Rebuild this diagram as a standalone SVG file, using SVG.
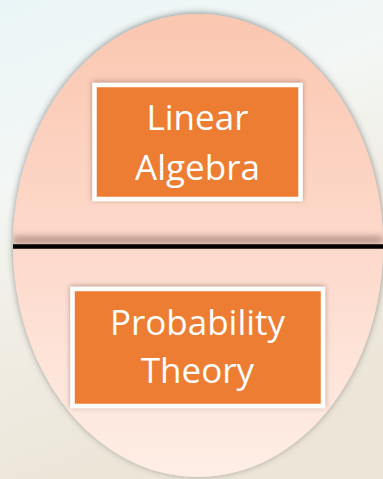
<svg xmlns="http://www.w3.org/2000/svg" width="383" height="479" viewBox="0 0 383 479">
<defs>
<linearGradient id="bg" x1="0" y1="0" x2="0.3" y2="1">
<stop offset="0" stop-color="#EAF5F7"/>
<stop offset="0.35" stop-color="#F3F7F5"/>
<stop offset="0.6" stop-color="#F1EEE6"/>
<stop offset="1" stop-color="#ECE5D8"/>
</linearGradient>
<linearGradient id="ell" x1="0" y1="0" x2="0" y2="1">
<stop offset="0" stop-color="#FAC7B0"/>
<stop offset="0.5" stop-color="#FDD9CB"/>
<stop offset="1" stop-color="#FEEEE6"/>
</linearGradient>
<filter id="sh" x="-10%" y="-10%" width="120%" height="120%">
<feDropShadow dx="0" dy="-1" stdDeviation="3" flood-color="#3a3a3a" flood-opacity="0.55"/>
</filter>
<filter id="bsh" x="-10%" y="-15%" width="120%" height="130%">
<feDropShadow dx="0" dy="-1" stdDeviation="2.5" flood-color="#5a3a30" flood-opacity="0.45"/>
</filter>
<filter id="blur" x="-5%" y="-100%" width="110%" height="300%">
<feGaussianBlur stdDeviation="3"/>
</filter>
<clipPath id="ec"><ellipse cx="198" cy="245.5" rx="185" ry="231.5"/></clipPath>
</defs>
<style>
.box{fill:#ED7D31;stroke:#FFFFFF;stroke-width:4.5}
.t{font-family:"Open Sans","Noto Sans",sans-serif;font-size:35px;fill:#FFFFFF;text-anchor:middle}
</style>
<rect x="0" y="0" width="383" height="479" fill="url(#bg)"/>
<g id="oval">
<ellipse cx="198" cy="245.5" rx="185" ry="231.5" fill="url(#ell)" filter="url(#sh)"/>
</g>
<g id="connectors">
<rect x="13" y="236" width="370" height="8" fill="#6b4a3e" opacity="0.45" filter="url(#blur)" clip-path="url(#ec)"/>
<line x1="13" y1="246.5" x2="383" y2="246.5" stroke="#000000" stroke-width="4.5"/>
</g>
<g id="linear-algebra">
<rect class="box" x="94.5" y="85" width="206" height="114" filter="url(#bsh)"/>
<text class="t" x="197.5" y="130">Linear</text>
<text class="t" x="197.5" y="180">Algebra</text>
</g>
<g id="probability-theory">
<rect class="box" x="72.5" y="289" width="250.5" height="117" filter="url(#bsh)"/>
<text class="t" x="197.5" y="335">Probability</text>
<text class="t" x="197.5" y="383">Theory</text>
</g>
</svg>
